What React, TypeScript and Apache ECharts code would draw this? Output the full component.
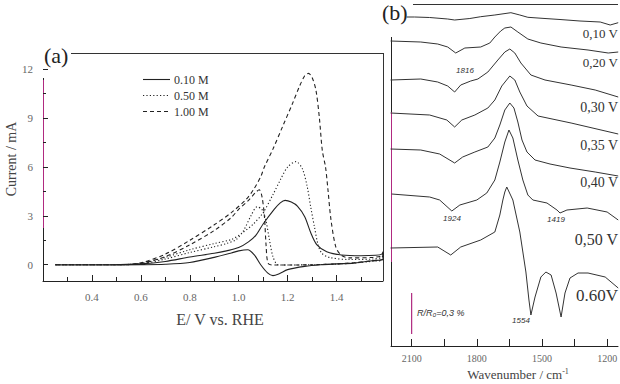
import React, { useEffect, useRef } from "react";
import * as echarts from "echarts";

// ---------- Panel (a): cyclic voltammograms ----------
const cvLegend = ["0.10 M", "0.50 M", "1.00 M"];
const potentialTicks = [0.2, 0.4, 0.6, 0.8, 1.0, 1.2, 1.4];
const potentialLabels = [0.4, 0.6, 0.8, 1.0, 1.2, 1.4];
const potentialMinor = [0.3, 0.5, 0.7, 0.9, 1.1, 1.3, 1.5];
const currentTicks = [0, 3, 6, 9, 12];
const currentMinor = [1.5, 4.5, 7.5, 10.5];

// [E / V, I / mA], forward then backward scan
const cv010 = [
  [0.25, 0], [0.4, 0], [0.5, 0.01], [0.6, 0.05], [0.7, 0.2], [0.8, 0.47], [0.9, 0.7], [0.95, 0.85],
  [1.0, 1.05], [1.04, 1.4], [1.07, 1.8], [1.1, 2.5], [1.145, 3.4], [1.17, 3.8], [1.19, 3.95],
  [1.215, 3.85], [1.24, 3.6], [1.27, 2.95], [1.295, 1.95], [1.32, 1.22], [1.36, 0.8], [1.42, 0.6],
  [1.5, 0.55], [1.56, 0.58], [1.585, 0.65], [1.59, 0.8],
  [1.59, 0.35], [1.55, 0.25], [1.47, 0.1], [1.4, 0.05], [1.336, 0], [1.27, -0.1], [1.2, -0.3],
  [1.166, -0.55], [1.14, -0.67], [1.118, -0.5], [1.09, 0], [1.064, 0.6], [1.037, 0.92], [1.0, 0.85],
  [0.97, 0.72], [0.9, 0.45], [0.8, 0.14], [0.7, 0.03], [0.6, 0], [0.4, -0.02], [0.25, -0.02],
];
const cv050 = [
  [0.25, 0], [0.5, 0], [0.6, 0.08], [0.7, 0.45], [0.8, 0.92], [0.9, 1.3], [0.97, 1.55], [1.01, 1.9],
  [1.06, 2.5], [1.1, 3.2], [1.14, 4.3], [1.17, 5.2], [1.2, 6.0], [1.234, 6.33], [1.26, 5.9],
  [1.28, 4.8], [1.295, 3.5], [1.31, 2.3], [1.325, 1.2], [1.34, 0.7], [1.37, 0.45], [1.45, 0.32],
  [1.55, 0.35], [1.585, 0.45], [1.59, 0.6],
  [1.59, 0.3], [1.55, 0.22], [1.47, 0.1], [1.4, 0.04], [1.3, 0], [1.2, -0.02], [1.16, 0],
  [1.14, 0.5], [1.125, 1.6], [1.11, 2.8], [1.095, 3.4], [1.075, 3.55], [1.05, 3.0], [1.02, 2.1],
  [0.99, 1.55], [0.95, 1.3], [0.9, 1.1], [0.8, 0.75], [0.7, 0.35], [0.6, 0.05], [0.5, 0], [0.25, 0],
];
const cv100 = [
  [0.25, 0], [0.5, 0], [0.6, 0.12], [0.7, 0.65], [0.8, 1.5], [0.9, 2.45], [0.97, 3.2], [1.03, 4.0],
  [1.06, 4.6], [1.09, 5.4], [1.105, 6.0], [1.14, 7.1], [1.18, 8.5], [1.22, 9.9], [1.25, 11.0],
  [1.27, 11.6], [1.285, 11.75], [1.3, 11.5], [1.316, 10.7], [1.33, 9.0], [1.342, 7.0],
  [1.355, 6.0], [1.365, 4.6], [1.377, 2.8], [1.397, 1.1], [1.418, 0.6], [1.45, 0.42],
  [1.55, 0.45], [1.585, 0.55], [1.59, 0.7],
  [1.59, 0.35], [1.55, 0.25], [1.47, 0.12], [1.4, 0.05], [1.3, 0], [1.2, -0.02], [1.14, -0.02],
  [1.12, 0.1], [1.112, 1.2], [1.105, 3.0], [1.095, 4.2], [1.084, 4.6], [1.07, 4.45], [1.04, 3.95],
  [1.0, 3.4], [0.97, 2.9], [0.9, 2.1], [0.8, 1.22], [0.7, 0.5], [0.6, 0.08], [0.5, 0], [0.25, 0],
];

// ---------- Panel (b): IR spectra ----------
const wavenumberTicks = [2100, 1950, 1800, 1650, 1500, 1350, 1200];
const wavenumberLabels = [2100, 1800, 1500, 1200];
const spectraNames = ["0,10 V", "0,20 V", "0,30 V", "0,35 V", "0,40 V", "0,50 V", "0.60V"];
// [wavenumber / cm-1, offset intensity / a.u.]
const sp010 = [
  [2123, 329], [2086, 329], [2017, 328.5], [1934, 327], [1902, 326], [1832, 327.5], [1782, 329.3],
  [1717, 331], [1643, 333.3], [1602, 331], [1565, 328.7], [1486, 327.5], [1417, 326.5],
  [1325, 325], [1232, 324], [1186, 321], [1149, 323.3],
];
const sp020 = [
  [2197, 305], [2058, 304], [1980, 302], [1934, 299], [1897, 293], [1855, 298], [1782, 299],
  [1740, 303], [1717, 309], [1690, 315], [1671, 318], [1643, 319], [1611, 314], [1565, 307],
  [1505, 303], [1412, 299], [1288, 296], [1195, 293], [1149, 294],
];
const sp030 = [
  [2197, 266], [2058, 267], [1980, 264], [1934, 260], [1902, 254], [1874, 261], [1828, 265],
  [1795, 267], [1749, 274], [1703, 286], [1671, 294], [1648, 297], [1625, 293], [1597, 283],
  [1551, 271], [1486, 266], [1366, 261], [1255, 256], [1149, 249],
];
const sp035 = [
  [2197, 233], [2017, 231], [1938, 226], [1902, 219], [1869, 226], [1809, 231], [1749, 238],
  [1717, 246], [1685, 260], [1648, 270], [1625, 266], [1602, 254], [1569, 240], [1518, 230],
  [1366, 223], [1149, 212],
];
const sp040 = [
  [2197, 197], [2058, 196], [1971, 192], [1902, 183], [1865, 189], [1809, 194], [1749, 199],
  [1717, 208], [1694, 221], [1671, 236], [1648, 243], [1629, 238], [1611, 224], [1592, 206],
  [1569, 194], [1532, 186], [1463, 182], [1371, 178], [1255, 174], [1149, 170],
];
const sp050 = [
  [2192, 152], [2017, 149], [1971, 146], [1915, 135], [1878, 141], [1800, 146], [1754, 153],
  [1717, 166], [1694, 184], [1671, 204], [1652, 216], [1634, 208], [1611, 186], [1588, 166],
  [1565, 151], [1542, 146], [1477, 143], [1431, 136], [1417, 133], [1385, 136], [1292, 138],
  [1200, 134], [1149, 126],
];
const sp060 = [
  [2197, 98], [1980, 99], [1920, 91], [1874, 99], [1782, 106], [1717, 114], [1694, 131],
  [1680, 146], [1671, 154], [1662, 159], [1634, 146], [1602, 114], [1574, 74], [1560, 46],
  [1551, 31], [1532, 49], [1505, 69], [1482, 74], [1458, 71], [1435, 53], [1412, 29], [1394, 53],
  [1371, 68], [1334, 73], [1288, 73], [1209, 69], [1149, 58],
];
const spectra = [sp010, sp020, sp030, sp035, sp040, sp050, sp060];
const scaleBar = [[2100, 12], [2100, 53]];
const peakNotes = ["1816", "1924", "1419", "1554"];

const SERIF = '"Liberation Serif", "Times New Roman", serif';
const SANS = '"Liberation Sans", Arial, sans-serif';
const INK = "#222";
const MAGENTA = "#b02a80";

export default function App() {
  const ref = useRef<HTMLDivElement>(null);
  useEffect(() => {
    if (!ref.current) return;
    const chart = echarts.init(ref.current, null, { renderer: "svg" });

    const labelY = [33, 62, 107, 145, 182, 239, 295];
    const labelSize = [13, 13, 14, 14, 14, 16, 17];
    const notePos = [[465, 70], [452, 218], [556, 219], [521, 320]];
    const legendDash: any[] = [null, [1.2, 2.2], [4, 3]];

    const cvSeries = [cv010, cv050, cv100].map((d, i) => ({
      name: cvLegend[i],
      type: "line",
      xAxisIndex: 0,
      yAxisIndex: 0,
      data: d,
      symbol: "none",
      smooth: 0.3,
      lineStyle: { color: INK, width: 1.1, type: legendDash[i] || "solid" },
    }));

    const spSeries = spectra.map((d, i) => ({
      name: spectraNames[i],
      type: "line",
      xAxisIndex: 2,
      yAxisIndex: 2,
      data: d,
      symbol: "none",
      lineStyle: { color: "#333", width: 1 },
    }));

    const graphics: any[] = [
      { type: "text", left: 44, top: 44, style: { text: "(a)", font: `22px ${SERIF}`, fill: INK } },
      { type: "line", shape: { x1: 71, y1: 53.5, x2: 383.5, y2: 53.5 }, style: { stroke: "#333", lineWidth: 1 } },
      { type: "line", shape: { x1: 383.5, y1: 53, x2: 383.5, y2: 281 }, style: { stroke: "#333", lineWidth: 1 } },
      { type: "line", shape: { x1: 43.5, y1: 78, x2: 43.5, y2: 281 }, style: { stroke: INK, lineWidth: 1 } },
      { type: "line", shape: { x1: 43.5, y1: 80, x2: 43.5, y2: 228 }, style: { stroke: MAGENTA, lineWidth: 1 } },
      { type: "text", left: 382, top: 1, style: { text: "(b)", font: `22px ${SERIF}`, fill: INK } },
      { type: "line", shape: { x1: 413, y1: 4.5, x2: 618, y2: 4.5 }, style: { stroke: "#333", lineWidth: 1 } },
      { type: "line", shape: { x1: 391.5, y1: 37, x2: 391.5, y2: 346 }, style: { stroke: INK, lineWidth: 1 } },
      { type: "line", shape: { x1: 391.5, y1: 112, x2: 391.5, y2: 262 }, style: { stroke: MAGENTA, lineWidth: 1 } },
      {
        type: "text", x: 417, y: 313,
        style: { text: "R/R\u2080=0,3 %", font: `italic 9px ${SANS}`, fill: "#333", textVerticalAlign: "middle" },
      },
    ];
    // legend (line samples drawn with the series' dash patterns)
    cvLegend.forEach((n, i) => {
      const y = 79.5 + i * 16;
      graphics.push({
        type: "line", shape: { x1: 143, y1: y, x2: 170, y2: y },
        style: { stroke: INK, lineWidth: 1.1, lineDash: legendDash[i] },
      });
      graphics.push({
        type: "text", x: 174, y,
        style: { text: n, font: `12px ${SERIF}`, fill: "#333", textVerticalAlign: "middle" },
      });
    });
    spectraNames.forEach((n, i) => {
      graphics.push({
        type: "text", x: 618, y: labelY[i],
        style: { text: n, font: `${labelSize[i]}px ${SERIF}`, fill: "#333", textAlign: "right", textVerticalAlign: "middle" },
      });
    });
    peakNotes.forEach((n, i) => {
      graphics.push({
        type: "text", x: notePos[i][0], y: notePos[i][1],
        style: { text: n, font: `italic 8px ${SANS}`, fill: "#333", textAlign: "center", textVerticalAlign: "middle" },
      });
    });

    const axisFont = { fontFamily: SERIF, color: "#666" };

    chart.setOption({
      animation: false,
      backgroundColor: "#fff",
      grid: [
        { left: 43, top: 53, width: 340, height: 228, containLabel: false, outerBoundsMode: "none" },
        { left: 391, top: 4, width: 227, height: 342, containLabel: false, outerBoundsMode: "none" },
      ],
      xAxis: [
        {
          type: "value", gridIndex: 0, min: 0.2, max: 1.59, position: "bottom",
          axisLine: { show: true, onZero: false, lineStyle: { color: INK, width: 1 } },
          axisTick: { show: true, inside: true, length: 6, customValues: potentialTicks, lineStyle: { color: INK } },
          axisLabel: { customValues: potentialLabels, formatter: (v: number) => v.toFixed(1), fontSize: 11, margin: 10, ...axisFont },
          splitLine: { show: false },
          name: "E/ V vs. RHE", nameLocation: "middle", nameGap: 30,
          nameTextStyle: { fontFamily: SERIF, fontSize: 16, color: "#444", padding: [0, 0, 0, 14] },
        },
        {
          type: "value", gridIndex: 0, min: 0.2, max: 1.59, position: "bottom",
          axisLine: { show: false, onZero: false },
          axisTick: { show: true, inside: true, length: 4, customValues: potentialMinor, lineStyle: { color: INK } },
          axisLabel: { show: false },
          splitLine: { show: false },
        },
        {
          type: "value", gridIndex: 1, min: 1150, max: 2195, inverse: true, position: "bottom",
          axisLine: { show: true, onZero: false, lineStyle: { color: INK, width: 1 } },
          axisTick: { show: true, inside: true, length: 7, customValues: wavenumberTicks, lineStyle: { color: INK } },
          axisLabel: { customValues: wavenumberLabels, formatter: (v: number) => String(v), fontSize: 10, margin: 7, ...axisFont },
          splitLine: { show: false },
          name: "Wavenumber / cm{sup|-1}", nameLocation: "middle", nameGap: 21,
          nameTextStyle: {
            fontFamily: SERIF, fontSize: 13, color: "#444", padding: [0, 0, 0, 27],
            rich: { sup: { fontFamily: SERIF, fontSize: 8, color: "#444", verticalAlign: "top", padding: [0, 0, 6, 0] } },
          },
        },
      ],
      yAxis: [
        {
          type: "value", gridIndex: 0, min: -1, max: 13, position: "left",
          axisLine: { show: false, onZero: false },
          axisTick: { show: true, inside: true, length: 5, customValues: currentTicks, lineStyle: { color: INK } },
          axisLabel: { customValues: currentTicks, fontSize: 11, margin: 10, ...axisFont },
          splitLine: { show: false },
          name: "Current / mA", nameLocation: "middle", nameGap: 25, nameMoveOverlap: false,
          nameTextStyle: { fontFamily: SERIF, fontSize: 14, color: "#444", padding: [0, 0, 0, 16] },
        },
        {
          type: "value", gridIndex: 0, min: -1, max: 13, position: "left",
          axisLine: { show: false, onZero: false },
          axisTick: { show: true, inside: true, length: 3, customValues: currentMinor, lineStyle: { color: INK } },
          axisLabel: { show: false },
          splitLine: { show: false },
        },
        { type: "value", gridIndex: 1, min: 0, max: 342, show: false, axisLine: { onZero: false } },
      ],
      series: [
        ...cvSeries,
        ...spSeries,
        {
          name: "scale",
          type: "line",
          xAxisIndex: 2,
          yAxisIndex: 2,
          data: scaleBar,
          symbol: "none",
          lineStyle: { color: MAGENTA, width: 1.2 },
        },
      ],
      graphic: graphics,
    });
    return () => chart.dispose();
  }, []);
  return <div ref={ref} style={{ position: "fixed", left: 0, top: 0, width: 620, height: 384 }} />;
}
